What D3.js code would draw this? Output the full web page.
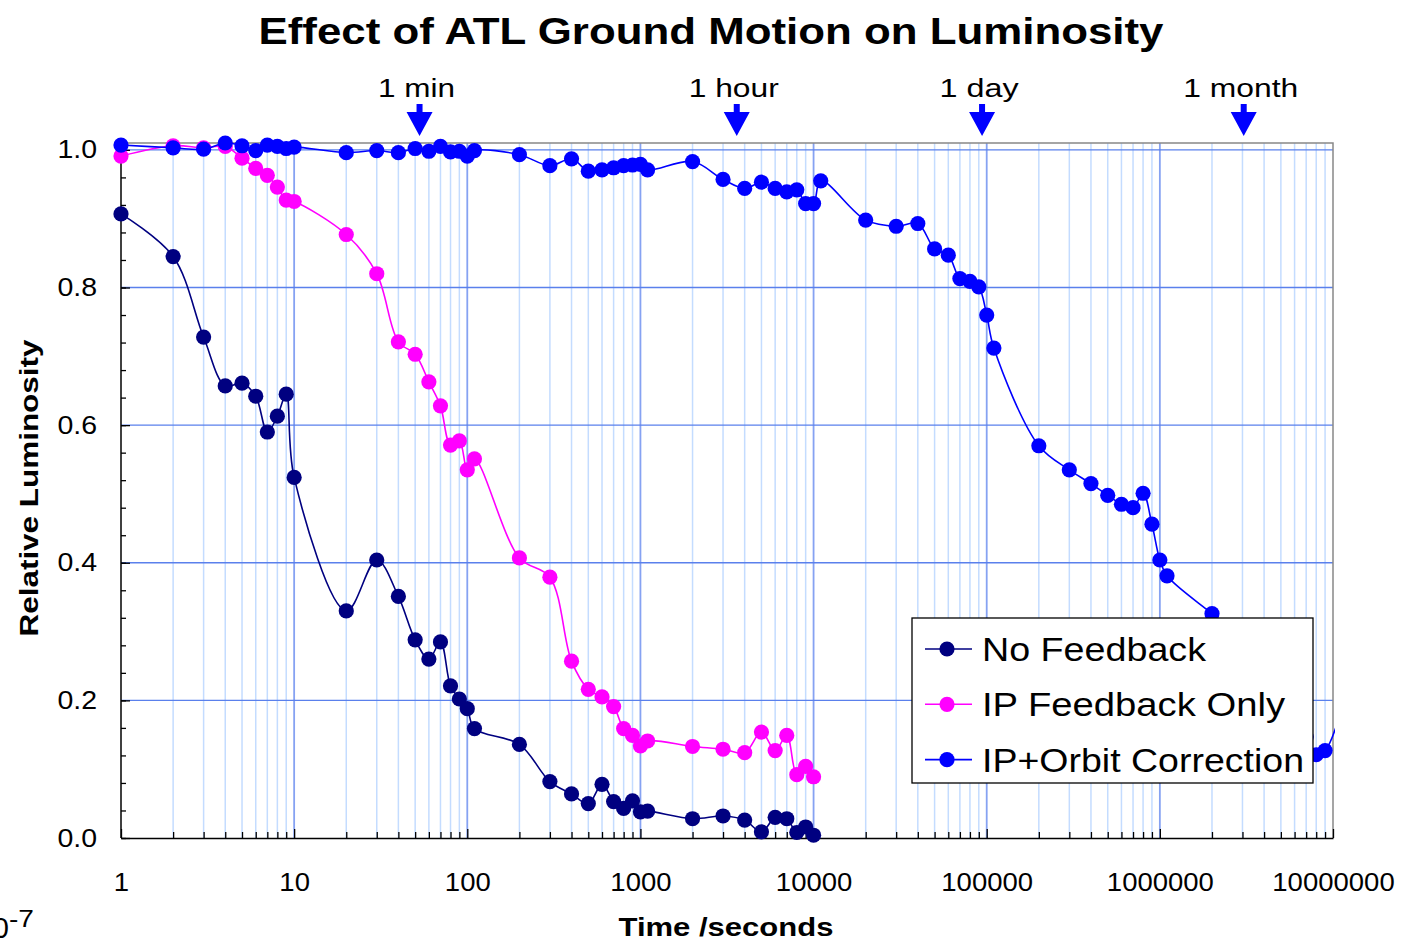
<!DOCTYPE html>
<html>
<head>
<meta charset="utf-8">
<script src="https://cdn.jsdelivr.net/npm/d3@7"></script>
<style>
  body { margin: 0; background: #fff; }
  text { font-family: "Liberation Sans", Arial, sans-serif; }
</style>
</head>
<body>
<svg id="chart" width="1402" height="941"></svg>
<script>
// time in seconds
var shortTimes = [1,2,3,4,5,6,7,8,9,10,20,30,40,50,60,70,80,90,100,110,200,300,400,500,600,700,800,900,1000,1100,
                  2000,3000,4000,5000,6000,7000,8000,9000,10000];
var noFeedback = [0.907,0.845,0.728,0.657,0.661,0.642,0.590,0.613,0.645,0.524,0.330,0.404,0.351,0.288,0.260,0.285,0.221,0.202,0.188,0.159,
                  0.136,0.082,0.064,0.050,0.078,0.053,0.043,0.054,0.038,0.039,0.028,0.032,0.026,0.009,0.030,0.028,0.008,0.016,0.004];
var ipFeedback = [0.991,1.006,1.003,1.005,0.988,0.973,0.963,0.946,0.927,0.925,0.877,0.820,0.721,0.703,0.663,0.628,0.571,0.577,0.535,0.551,
                  0.407,0.379,0.257,0.216,0.205,0.191,0.159,0.149,0.134,0.141,0.133,0.129,0.124,0.154,0.127,0.149,0.092,0.104,0.089];
var longTimes = [1,2,3,4,5,6,7,8,9,10,20,30,40,50,60,70,80,90,100,110,200,300,400,500,600,700,800,900,1000,1100,
                 2000,3000,4000,5000,6000,7000,8000,9000,10000,11000,20000,30000,40000,50000,60000,70000,80000,90000,100000,110000,
                 200000,300000,400000,500000,600000,700000,800000,900000,1000000,1100000,
                 2000000,3000000,4000000,5000000,6000000,7000000,8000000,9000000,11000000];
var orbitCorr = [1.007,1.003,1.001,1.010,1.006,0.999,1.007,1.005,1.002,1.004,0.996,0.999,0.996,1.002,0.998,1.005,0.997,0.998,0.991,0.999,
                 0.993,0.977,0.987,0.969,0.971,0.974,0.977,0.978,0.979,0.971,0.983,0.957,0.944,0.953,0.944,0.939,0.942,0.922,0.922,0.955,
                 0.898,0.889,0.893,0.856,0.847,0.813,0.809,0.801,0.760,0.712,0.570,0.535,0.515,0.498,0.485,0.480,0.501,0.456,0.404,0.381,
                 0.326,0.290,0.250,0.210,0.175,0.147,0.121,0.127,0.180];

var seriesNames = ['No Feedback', 'IP Feedback Only', 'IP+Orbit Correction'];
var seriesColors = ['#000080', '#ff00ff', '#0000ff'];

var markLabels = ['1 min', '1 hour', '1 day', '1 month'];
var markTimes = [53, 3600, 94000, 3050000];
var markWidths = [77, 90, 79, 115];

var xTicks = [1,10,100,1000,10000,100000,1000000,10000000];
var yTicks = [0,0.2,0.4,0.6,0.8,1.0];

var series = [
    {name: seriesNames[0], color: seriesColors[0], values: shortTimes.map((t, i) => [t, noFeedback[i]])},
    {name: seriesNames[1], color: seriesColors[1], values: shortTimes.map((t, i) => [t, ipFeedback[i]])},
    {name: seriesNames[2], color: seriesColors[2], values: longTimes.map((t, i) => [t, orbitCorr[i]])}
];

var svg = d3.select("#chart");
const margin = {top: 143, left: 121, bottom: 103, right: 69};
var width = 1402 - margin.left - margin.right, height = 941 - margin.top - margin.bottom;

var x = d3.scaleLog().domain([1, 1e7]).range([margin.left, margin.left + width]);
var y = d3.scaleLinear().domain([0, 1.01]).range([margin.top + height, margin.top]);

// stretch text to the wider look of the original
function stretch(sel, k) {
    sel.each(function() {
        var len = this.getComputedTextLength();
        d3.select(this).attr("textLength", len * k).attr("lengthAdjust", "spacingAndGlyphs");
    });
}

// gridlines
var minorX = [];
xTicks.slice(0, -1).forEach(d => { for (let k = 2; k <= 9; k++) minorX.push(d * k); });

svg.append("g").selectAll("line").data(minorX).join("line")
    .attr("x1", d => x(d)).attr("x2", d => x(d))
    .attr("y1", margin.top).attr("y2", margin.top + height)
    .attr("stroke", "#c4dcff").attr("stroke-width", 1.5);

svg.append("g").selectAll("line").data(xTicks.slice(1, -1)).join("line")
    .attr("x1", d => x(d)).attr("x2", d => x(d))
    .attr("y1", margin.top).attr("y2", margin.top + height)
    .attr("stroke", "#86a2f2").attr("stroke-width", 1.8);

svg.append("g").selectAll("line").data(yTicks.slice(1)).join("line")
    .attr("x1", margin.left).attr("x2", margin.left + width)
    .attr("y1", d => y(d)).attr("y2", d => y(d))
    .attr("stroke", "#5a80ec").attr("stroke-width", 1.3);

// plot frame (top and right)
svg.append("path")
    .attr("d", `M${margin.left},${margin.top}H${margin.left + width}V${margin.top + height}`)
    .attr("fill", "none").attr("stroke", "#888").attr("stroke-width", 1.5);

// axes
var minorY = d3.range(0, 1.001, 0.04);
svg.append("g").attr("transform", `translate(${margin.left},0)`)
    .call(d3.axisLeft(y).tickValues(minorY).tickSize(-5).tickFormat(""))
    .call(g => g.select(".domain").remove())
    .selectAll("line").attr("stroke", "#000").attr("stroke-width", 1.3);

var yAxis = svg.append("g").attr("transform", `translate(${margin.left},0)`)
    .call(d3.axisLeft(y).tickValues(yTicks).tickSize(-9).tickPadding(24).tickFormat(d3.format(".1f")).tickSizeOuter(0));
yAxis.select(".domain").attr("stroke", "#000").attr("stroke-width", 1.5)
    .attr("d", `M0,${margin.top}V${margin.top + height}`);
yAxis.selectAll("line").attr("stroke-width", 1.3);
yAxis.selectAll("text").attr("font-size", 25).attr("font-family", "Liberation Sans, Arial, sans-serif").attr("fill", "#000");
stretch(yAxis.selectAll("text"), 1.14);

svg.append("g").attr("transform", `translate(0,${margin.top + height})`)
    .call(d3.axisBottom(x).tickValues(minorX).tickSize(-6).tickFormat(""))
    .call(g => g.select(".domain").remove())
    .selectAll("line").attr("stroke", "#000").attr("stroke-width", 1.3);

var xAxis = svg.append("g").attr("transform", `translate(0,${margin.top + height})`)
    .call(d3.axisBottom(x).tickValues(xTicks).tickSize(-9).tickPadding(35).tickFormat(d3.format("d")).tickSizeOuter(0));
xAxis.select(".domain").attr("stroke", "#000").attr("stroke-width", 1.5);
xAxis.selectAll("line").attr("stroke-width", 1.3);
xAxis.selectAll("text").attr("font-size", 25).attr("font-family", "Liberation Sans, Arial, sans-serif").attr("fill", "#000");
stretch(xAxis.selectAll("text"), 1.1);

// series
svg.append("clipPath").attr("id", "plotClip")
    .append("rect").attr("x", 0).attr("y", 0).attr("width", margin.left + width + 2).attr("height", 941);

var line = d3.line()
    .x(d => x(d[0]))
    .y(d => y(d[1]))
    .curve(d3.curveCatmullRom.alpha(0.5));

var plot = svg.append("g").attr("clip-path", "url(#plotClip)");
series.forEach(s => {
    plot.append("path")
        .datum(s.values)
        .attr("fill", "none")
        .attr("stroke", s.color)
        .attr("stroke-width", 1.6)
        .attr("d", line);
    plot.append("g").selectAll("circle").data(s.values.filter(d => d[0] <= 1e7)).join("circle")
        .attr("cx", d => x(d[0]))
        .attr("cy", d => y(d[1]))
        .attr("r", 7.6)
        .attr("fill", s.color);
});

// time markers on top
var marks = svg.append("g").selectAll("g").data(markLabels).join("g")
    .attr("transform", (d, i) => `translate(${x(markTimes[i])},${margin.top})`);
marks.append("path")
    .attr("d", "M-3,-39H3V-31H13L0,-7L-13,-31H-3Z")
    .attr("fill", "#0000ff");
marks.append("text")
    .attr("x", -3).attr("y", -46)
    .attr("text-anchor", "middle")
    .attr("font-size", 26)
    .attr("textLength", (d, i) => markWidths[i])
    .attr("lengthAdjust", "spacingAndGlyphs")
    .text(d => d);

// titles
svg.append("text")
    .attr("x", 711).attr("y", 44)
    .attr("text-anchor", "middle")
    .attr("font-size", 36).attr("font-weight", "bold")
    .attr("textLength", 905).attr("lengthAdjust", "spacingAndGlyphs")
    .text("Effect of ATL Ground Motion on Luminosity");

svg.append("text")
    .attr("transform", "translate(38,488) rotate(-90)")
    .attr("text-anchor", "middle")
    .attr("font-size", 26).attr("font-weight", "bold")
    .attr("textLength", 297).attr("lengthAdjust", "spacingAndGlyphs")
    .text("Relative Luminosity");

svg.append("text")
    .attr("x", 726).attr("y", 936)
    .attr("text-anchor", "middle")
    .attr("font-size", 26).attr("font-weight", "bold")
    .attr("textLength", 215).attr("lengthAdjust", "spacingAndGlyphs")
    .text("Time /seconds");

// leftover label cut at the left edge, as in the original
svg.append("text").attr("x", 9).attr("y", 938).attr("font-size", 29).attr("text-anchor", "end").text("10");
svg.append("text").attr("x", 9).attr("y", 927).attr("font-size", 24)
    .attr("textLength", 25).attr("lengthAdjust", "spacingAndGlyphs").text("-7");

// legend
var legend = svg.append("g").attr("transform", "translate(912,618)");
legend.append("rect")
    .attr("width", 401).attr("height", 165)
    .attr("fill", "#fff").attr("stroke", "#000").attr("stroke-width", 1.3);
var legendWidths = [224, 303, 322];
var rows = legend.selectAll("g").data(series).join("g")
    .attr("transform", (d, i) => `translate(0,${31 + i * 55.3})`);
rows.append("line")
    .attr("x1", 13).attr("x2", 60)
    .attr("stroke", d => d.color).attr("stroke-width", 1.6);
rows.append("circle")
    .attr("cx", 35).attr("r", 7.6)
    .attr("fill", d => d.color);
rows.append("text")
    .attr("x", 70).attr("y", 12)
    .attr("font-size", 34)
    .attr("textLength", (d, i) => legendWidths[i])
    .attr("lengthAdjust", "spacingAndGlyphs")
    .text(d => d.name);
</script>
</body>
</html>
